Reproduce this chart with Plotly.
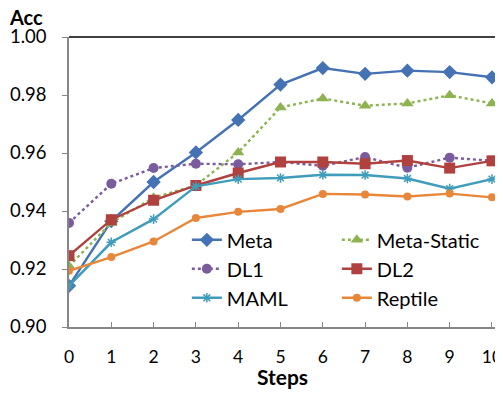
import plotly.graph_objects as go

steps = list(range(11))
meta = [0.9142, 0.9365, 0.9500, 0.9602, 0.9714, 0.9836, 0.9893, 0.9873, 0.9884, 0.9879, 0.9861]
meta_static = [0.9210, 0.9359, 0.9446, 0.9488, 0.9602, 0.9757, 0.9788, 0.9763, 0.9771, 0.9799, 0.9771]
dl1 = [0.9359, 0.9494, 0.9548, 0.9563, 0.9561, 0.9569, 0.9556, 0.9586, 0.9549, 0.9584, 0.9573]
dl2 = [0.9246, 0.9370, 0.9437, 0.9488, 0.9531, 0.9569, 0.9569, 0.9563, 0.9574, 0.9548, 0.9573]
maml = [0.9142, 0.9292, 0.9372, 0.9485, 0.9510, 0.9514, 0.9525, 0.9524, 0.9512, 0.9477, 0.9510]
reptile = [0.9194, 0.9241, 0.9295, 0.9376, 0.9397, 0.9407, 0.9459, 0.9457, 0.9450, 0.9460, 0.9447]

FONT = "Lato"

series = [
    ("Meta", meta, "#4472B4", "solid", dict(symbol="diamond", size=11)),
    ("Meta-Static", meta_static, "#8DB351", "dot", dict(symbol="triangle-up", size=11)),
    ("DL1", dl1, "#7A5B9E", "dot", dict(symbol="circle", size=10)),
    ("DL2", dl2, "#B0413E", "solid", dict(symbol="square", size=11)),
    ("MAML", maml, "#3F9DBB", "solid", dict(symbol="asterisk-open", size=8, line=dict(width=1.5, color="#3F9DBB"))),
    ("Reptile", reptile, "#E8873A", "solid", dict(symbol="circle", size=8)),
]

fig = go.Figure()
for name, ys, color, dash, marker in series:
    m = dict(color=color)
    m.update(marker)
    fig.add_trace(go.Scatter(
        x=steps, y=ys, name=name, mode="lines+markers",
        line=dict(color=color, width=2.4, dash=dash),
        marker=m,
    ))

# page body has an 8px default margin, so the figure is 8px smaller than the window
fig.update_layout(
    width=495, height=381,
    margin=dict(l=61, r=7, t=29, b=62, autoexpand=False),
    plot_bgcolor="white", paper_bgcolor="white",
    font=dict(family=FONT, size=20, color="black"),
    showlegend=True,
    legend=dict(
        orientation="h", x=0.276, y=0.368, xanchor="left", yanchor="top",
        entrywidth=105, entrywidthmode="pixels",
        font=dict(family=FONT, size=20, color="black"),
        bgcolor="rgba(0,0,0,0)", tracegroupgap=0, itemwidth=30,
    ),
    xaxis=dict(
        range=[0, 10.095], tickmode="array", tickvals=steps, ticktext=[str(s) for s in steps],
        tickfont=dict(family=FONT, size=17.5), ticklabeloverflow="allow",
        showline=True, linecolor="#868686", linewidth=1.5,
        ticks="inside", ticklen=5, tickcolor="#868686", tickwidth=1,
        showgrid=False, zeroline=False, ticklabelstandoff=13, automargin=False,
        title=dict(text="<b>Steps</b>", font=dict(family=FONT, size=21), standoff=0),
    ),
    yaxis=dict(
        range=[0.90, 1.00], tickmode="array",
        tickvals=[0.90, 0.92, 0.94, 0.96, 0.98, 1.00],
        ticktext=["0.90", "0.92", "0.94", "0.96", "0.98", "1.00"],
        tickfont=dict(family=FONT, size=18.5), ticklabeloverflow="allow",
        showline=True, linecolor="#868686", linewidth=1.5,
        ticks="outside", ticklen=5, tickcolor="#868686", tickwidth=1,
        showgrid=False, zeroline=False, ticklabelstandoff=12, automargin=False,
    ),
    annotations=[dict(
        text="<b>Acc</b>", xref="paper", yref="paper", x=-0.146, y=1.0, yshift=20,
        xanchor="left", yanchor="middle", showarrow=False,
        font=dict(family=FONT, size=20, color="black"),
    )],
    shapes=[
        dict(type="line", xref="paper", yref="paper", x0=0, x1=1, y0=1, y1=1,
             line=dict(color="black", width=1.5)),
        dict(type="line", xref="paper", yref="paper", x0=1, x1=1, y0=0, y1=1,
             line=dict(color="black", width=1.5)),
    ],
)

fig.write_html("out.html")
